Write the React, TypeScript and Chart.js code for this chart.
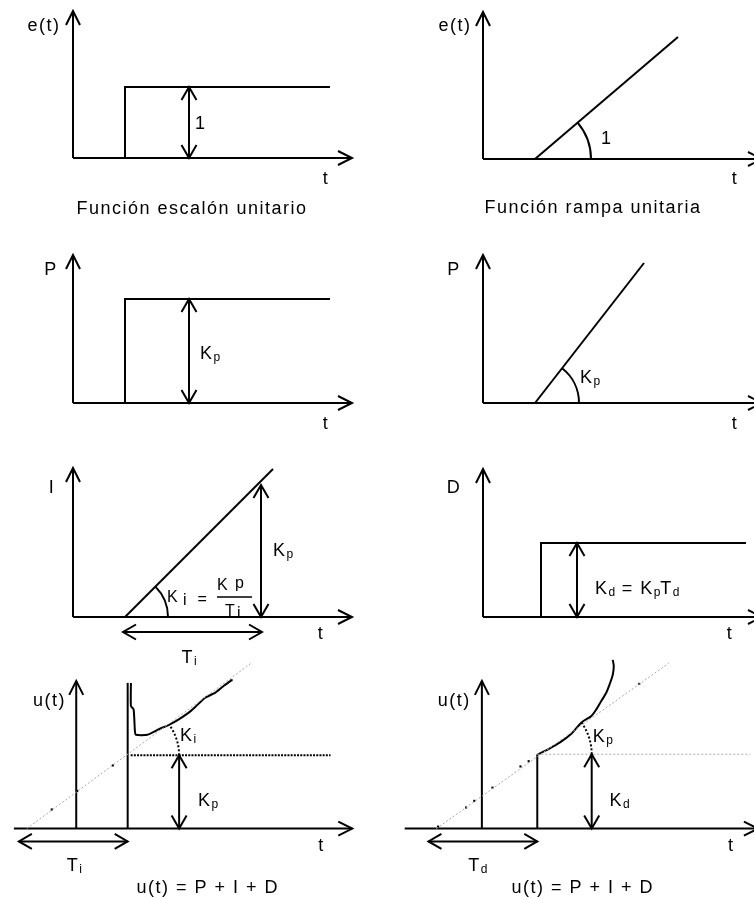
import React, { useEffect, useRef } from "react";
import { Chart, registerables } from "chart.js";

Chart.register(...registerables);

type Pt = [number, number];
type Kind = "n" | "s" | "m";
type Run = [string, Kind];
interface Label { x: number; y: number; runs: Run[]; align?: "left" | "center"; }
interface ArcSpec { c: Pt; r: number; to: number; dotted?: boolean; }

// ---------------- DATA (local units, origin = axes crossing) ----------------
// Panel 1: unit step
const p1XAxis: Pt[] = [[0, 0], [27.9, 0]];
const p1YAxis: Pt[] = [[0, 0], [0, 14.7]];
const p1Step: Pt[] = [[5.2, 0], [5.2, 7.1], [25.7, 7.1]];
const p1Dim: Pt[] = [[11.6, 0], [11.6, 7.1]];
const p1Labels: Label[] = [
  { x: -2.9, y: 13.3, runs: [["e(t)", "n"]], align: "center" },
  { x: 12.2, y: 3.5, runs: [["1", "n"]] },
  { x: 25.3, y: -2.0, runs: [["t", "n"]], align: "center" },
  { x: 11.9, y: -5.0, runs: [["Función escalón unitario", "n"]], align: "center" },
];

// Panel 2: unit ramp
const p2XAxis: Pt[] = [[0, 0], [27.9, 0]];
const p2YAxis: Pt[] = [[0, 0], [0, 14.7]];
const p2Ramp: Pt[] = [[5.2, 0], [19.5, 12.2]];
const p2Arcs: ArcSpec[] = [{ c: [5.2, 0], r: 5.6, to: 40.5 }];
const p2Labels: Label[] = [
  { x: -2.8, y: 13.4, runs: [["e(t)", "n"]], align: "center" },
  { x: 11.8, y: 2.1, runs: [["1", "n"]] },
  { x: 25.2, y: -1.9, runs: [["t", "n"]], align: "center" },
  { x: 11.0, y: -4.8, runs: [["Función rampa unitaria", "n"]], align: "center" },
];

// Panel 3: proportional step
const p3XAxis: Pt[] = [[0, 0], [27.9, 0]];
const p3YAxis: Pt[] = [[0, 0], [0, 14.8]];
const p3Step: Pt[] = [[5.2, 0], [5.2, 10.4], [25.7, 10.4]];
const p3Dim: Pt[] = [[11.6, 0], [11.6, 10.4]];
const p3Labels: Label[] = [
  { x: -2.2, y: 13.4, runs: [["P", "n"]], align: "center" },
  { x: 12.7, y: 5.0, runs: [["K", "n"], ["p", "s"]] },
  { x: 25.3, y: -2.0, runs: [["t", "n"]], align: "center" },
];

// Panel 4: proportional ramp
const p4XAxis: Pt[] = [[0, 0], [27.9, 0]];
const p4YAxis: Pt[] = [[0, 0], [0, 14.8]];
const p4Ramp: Pt[] = [[5.2, 0], [16.1, 14.0]];
const p4Arcs: ArcSpec[] = [{ c: [5.2, 0], r: 4.4, to: 52 }];
const p4Labels: Label[] = [
  { x: -2.9, y: 13.4, runs: [["P", "n"]], align: "center" },
  { x: 9.7, y: 2.6, runs: [["K", "n"], ["p", "s"]] },
  { x: 25.2, y: -2.0, runs: [["t", "n"]], align: "center" },
];

// Panel 5: integral
const p5XAxis: Pt[] = [[0, 0], [27.9, 0]];
const p5YAxis: Pt[] = [[0, 0], [0, 14.9]];
const p5Ramp: Pt[] = [[5.2, 0], [20.0, 14.8]];
const p5DimKp: Pt[] = [[18.8, 0], [18.8, 13.2]];
const p5DimTi: Pt[] = [[5.0, -1.5], [18.9, -1.5]];
const p5FracBar: Pt[] = [[14.4, 2.0], [17.9, 2.0]];
const p5Arcs: ArcSpec[] = [{ c: [5.2, 0], r: 4.3, to: 45 }];
const p5Labels: Label[] = [
  { x: -2.1, y: 13.0, runs: [["I", "n"]], align: "center" },
  { x: 20.0, y: 6.7, runs: [["K", "n"], ["p", "s"]] },
  { x: 24.8, y: -1.6, runs: [["t", "n"]], align: "center" },
  { x: 11.6, y: -4.0, runs: [["T", "n"], ["i", "s"]], align: "center" },
  { x: 9.4, y: 2.05, runs: [["K", "m"]] },
  { x: 11.0, y: 1.75, runs: [["i", "m"]] },
  { x: 20.0 - 7.0, y: 1.85, runs: [["=", "m"]], align: "center" },
  { x: 14.4, y: 3.3, runs: [["K", "m"]] },
  { x: 16.2, y: 3.5, runs: [["p", "m"]] },
  { x: 15.2, y: 0.7, runs: [["T", "m"]] },
  { x: 16.4, y: 0.5, runs: [["i", "m"]] },
];

// Panel 6: derivative
const p6XAxis: Pt[] = [[0, 0], [27.9, 0]];
const p6YAxis: Pt[] = [[0, 0], [0, 14.8]];
const p6Step: Pt[] = [[5.8, 0], [5.8, 7.4], [26.3, 7.4]];
const p6Dim: Pt[] = [[9.4, 0], [9.4, 7.4]];
const p6Labels: Label[] = [
  { x: -2.9, y: 13.0, runs: [["D", "n"]], align: "center" },
  { x: 11.2, y: 2.9, runs: [["K", "n"], ["d", "s"], [" = K", "n"], ["p", "s"], ["T", "n"], ["d", "s"]] },
  { x: 24.7, y: -1.6, runs: [["t", "n"]], align: "center" },
];

// Panel 7: u(t) with integral action
const p7XAxis: Pt[] = [[-6.3, 0], [27.9, 0]];
const p7YAxis: Pt[] = [[0, 0], [0, 14.9]];
const p7Spike: Pt[] = [[5.2, 0], [5.2, 14.7]];
const p7Response: Pt[] = [
  [5.53, 14.7], [5.53, 12.37], [5.8, 12.03], [5.93, 9.87], [6.03, 9.47], [7.2, 9.47],
  [8.37, 10.03], [9.37, 10.47], [10.37, 11.03], [11.37, 11.7], [12.03, 12.27],
  [13.03, 13.2], [14.03, 13.7], [14.87, 14.37], [15.7, 14.97],
];
const p7Ramp: Pt[] = [[-5.0, 0], [17.7, 16.7]];
const p7RampDots: Pt[] = [[-2.47, 1.93], [0.1, 3.8], [3.7, 6.37], [15.7, 14.97]];
const p7Level: Pt[] = [[5.5, 7.4], [25.7, 7.4]];
const p7Arcs: ArcSpec[] = [{ c: [5.2, 7.4], r: 5.2, to: 36, dotted: true }];
const p7DimKp: Pt[] = [[10.4, 0], [10.4, 7.4]];
const p7DimTi: Pt[] = [[-5.8, -1.3], [5.2, -1.3]];
const p7Labels: Label[] = [
  { x: -2.7, y: 13.0, runs: [["u(t)", "n"]], align: "center" },
  { x: 10.5, y: 9.45, runs: [["K", "n"], ["i", "s"]] },
  { x: 12.3, y: 2.95, runs: [["K", "n"], ["p", "s"]] },
  { x: 24.8, y: -1.6, runs: [["t", "n"]], align: "center" },
  { x: -0.2, y: -3.6, runs: [["T", "n"], ["i", "s"]], align: "center" },
  { x: 13.3, y: -5.8, runs: [["u(t) = P + I + D", "n"]], align: "center" },
];

// Panel 8: u(t) with derivative action
const p8XAxis: Pt[] = [[-7.8, 0], [27.9, 0]];
const p8YAxis: Pt[] = [[0, 0], [0, 14.9]];
const p8Ramp: Pt[] = [[-4.6, 0], [18.9, 16.7]];
const p8RampDots: Pt[] = [[-4.43, 0.2], [-1.6, 2.13], [-0.77, 2.8], [1.07, 4.13], [3.9, 6.27], [4.73, 6.8], [15.9, 14.6]];
const p8Step: Pt[] = [[5.6, 0], [5.6, 7.5]];
const p8Level: Pt[] = [[5.6, 7.5], [27.1, 7.5]];
const p8Response: Pt[] = [
  [5.63, 7.47], [6.73, 8.03], [7.9, 8.7], [9.07, 9.6], [10.07, 10.7], [11.07, 11.37],
  [11.57, 12.03], [12.07, 12.87], [12.57, 13.7], [12.9, 14.53], [13.23, 15.53],
  [13.33, 16.37], [13.23, 17.03],
];
const p8Arcs: ArcSpec[] = [{ c: [5.6, 7.5], r: 5.5, to: 36, dotted: true }];
const p8DimKd: Pt[] = [[11.1, 0], [11.1, 7.5]];
const p8DimTd: Pt[] = [[-5.4, -1.3], [5.6, -1.3]];
const p8Labels: Label[] = [
  { x: -2.8, y: 13.0, runs: [["u(t)", "n"]], align: "center" },
  { x: 11.2, y: 9.4, runs: [["K", "n"], ["p", "s"]] },
  { x: 12.9, y: 2.9, runs: [["K", "n"], ["d", "s"]] },
  { x: 25.2, y: -1.6, runs: [["t", "n"]], align: "center" },
  { x: -0.4, y: -3.6, runs: [["T", "n"], ["d", "s"]], align: "center" },
  { x: 10.2, y: -5.8, runs: [["u(t) = P + I + D", "n"]], align: "center" },
];

// ---------------- LAYOUT & STYLE ----------------
const W = 754;
const H = 899;
const UNIT = 10; // px per local unit
const FONT = "'Liberation Sans', Arial, sans-serif";
const SIZES: Record<Kind, number> = { n: 18, s: 12, m: 16 };

const SOLID = { borderColor: "#000", borderWidth: 2 };
const THIN = { borderColor: "#000", borderWidth: 1.5 };
const GRAY_DOTS = { borderColor: "#a8a8a8", borderWidth: 1, borderDash: [2, 2] };
const BLACK_DOTS = { borderColor: "#000", borderWidth: 2, borderDash: [2, 1.2] };

type Arrow = { start?: boolean; end?: boolean; head?: "axis" | "dim" };

function line(points: Pt[], style: any = SOLID, arrows: Arrow = {}, tension = 0) {
  return {
    data: points.map(([x, y]) => ({ x, y })),
    showLine: true,
    pointRadius: 0,
    pointHoverRadius: 0,
    fill: false,
    tension,
    clip: false,
    borderCapStyle: "butt",
    borderJoinStyle: "miter",
    ...style,
    arrowStart: !!arrows.start,
    arrowEnd: !!arrows.end,
    head: arrows.head || "axis",
  };
}
function dots(points: Pt[]) {
  return {
    data: points.map(([x, y]) => ({ x, y })),
    showLine: false,
    pointRadius: 1.5,
    pointStyle: "rect",
    pointBackgroundColor: "#000",
    pointBorderWidth: 0,
    clip: false,
  };
}
const AX_END: Arrow = { end: true, head: "axis" };
const DIM: Arrow = { start: true, end: true, head: "dim" };

interface Panel { origin: Pt; build: () => any[]; arcs: ArcSpec[]; labels: Label[]; }

const panels: Panel[] = [
  {
    origin: [73, 158], arcs: [], labels: p1Labels,
    build: () => [line(p1XAxis, SOLID, AX_END), line(p1YAxis, SOLID, AX_END), line(p1Step), line(p1Dim, SOLID, DIM)],
  },
  {
    origin: [483, 159], arcs: p2Arcs, labels: p2Labels,
    build: () => [line(p2XAxis, SOLID, AX_END), line(p2YAxis, SOLID, AX_END), line(p2Ramp)],
  },
  {
    origin: [73, 403], arcs: [], labels: p3Labels,
    build: () => [line(p3XAxis, SOLID, AX_END), line(p3YAxis, SOLID, AX_END), line(p3Step), line(p3Dim, SOLID, DIM)],
  },
  {
    origin: [483, 403], arcs: p4Arcs, labels: p4Labels,
    build: () => [line(p4XAxis, SOLID, AX_END), line(p4YAxis, SOLID, AX_END), line(p4Ramp)],
  },
  {
    origin: [73, 617], arcs: p5Arcs, labels: p5Labels,
    build: () => [
      line(p5XAxis, SOLID, AX_END), line(p5YAxis, SOLID, AX_END), line(p5Ramp),
      line(p5DimKp, SOLID, DIM), line(p5DimTi, SOLID, DIM), line(p5FracBar, THIN),
    ],
  },
  {
    origin: [483, 617], arcs: [], labels: p6Labels,
    build: () => [line(p6XAxis, SOLID, AX_END), line(p6YAxis, SOLID, AX_END), line(p6Step), line(p6Dim, SOLID, DIM)],
  },
  {
    origin: [73, 832], arcs: p7Arcs, labels: p7Labels,
    build: () => [
      line(p7Ramp, GRAY_DOTS), dots(p7RampDots),
      line(p7XAxis, SOLID, AX_END), line(p7YAxis, SOLID, AX_END), line(p7Spike),
      line(p7Response, SOLID, {}, 0.2), line(p7Level, BLACK_DOTS),
      line(p7DimKp, SOLID, DIM), line(p7DimTi, SOLID, DIM),
    ],
  },
  {
    origin: [483, 832], arcs: p8Arcs, labels: p8Labels,
    build: () => [
      line(p8Ramp, GRAY_DOTS), dots(p8RampDots), line(p8Level, GRAY_DOTS),
      line(p8XAxis, SOLID, AX_END), line(p8YAxis, SOLID, AX_END), line(p8Step),
      line(p8Response, SOLID, {}, 0.3),
      line(p8DimKd, SOLID, DIM), line(p8DimTd, SOLID, DIM),
    ],
  },
];

function makePlugin(panel: Panel) {
  return {
    id: "diagram",
    afterDatasetsDraw(chart: any) {
      const ctx: CanvasRenderingContext2D = chart.ctx;
      const xs = chart.scales.x;
      const ys = chart.scales.y;
      ctx.save();
      ctx.strokeStyle = "#000";
      ctx.fillStyle = "#000";
      ctx.lineWidth = 2;
      ctx.lineCap = "butt";
      ctx.lineJoin = "miter";
      // arrow heads
      chart.data.datasets.forEach((ds: any, i: number) => {
        if (!ds.arrowStart && !ds.arrowEnd) return;
        const pts = chart.getDatasetMeta(i).data;
        const n = pts.length;
        const L = ds.head === "dim" ? 13 : 14;
        const Wd = ds.head === "dim" ? 7.5 : 7;
        const head = (tip: any, from: any) => {
          const dx = tip.x - from.x;
          const dy = tip.y - from.y;
          const len = Math.hypot(dx, dy) || 1;
          const ux = dx / len, uy = dy / len;
          const bx = tip.x - ux * L, by = tip.y - uy * L;
          ctx.setLineDash([]);
          ctx.beginPath();
          ctx.moveTo(bx - uy * Wd, by + ux * Wd);
          ctx.lineTo(tip.x, tip.y);
          ctx.lineTo(bx + uy * Wd, by - ux * Wd);
          ctx.stroke();
        };
        if (ds.arrowEnd) head(pts[n - 1], pts[n - 2]);
        if (ds.arrowStart) head(pts[0], pts[1]);
      });
      // angle arcs
      const ppu = xs.getPixelForValue(1) - xs.getPixelForValue(0);
      panel.arcs.forEach((a) => {
        ctx.beginPath();
        ctx.setLineDash(a.dotted ? [2, 2] : []);
        ctx.lineWidth = 2;
        ctx.arc(xs.getPixelForValue(a.c[0]), ys.getPixelForValue(a.c[1]), a.r * ppu, 0, (-a.to * Math.PI) / 180, true);
        ctx.stroke();
      });
      ctx.setLineDash([]);
      // labels
      ctx.textBaseline = "alphabetic";
      ctx.textAlign = "left";
      panel.labels.forEach((lab) => {
        const px = xs.getPixelForValue(lab.x);
        const py = ys.getPixelForValue(lab.y);
        const parts = lab.runs.map(([text, kind]) => {
          ctx.font = `${SIZES[kind]}px ${FONT}`;
          (ctx as any).letterSpacing = kind === "s" ? "0px" : "1.5px";
          return { text, kind, w: ctx.measureText(text).width };
        });
        const total = parts.reduce((s, p) => s + p.w, 0);
        let x = lab.align === "center" ? px - total / 2 : px;
        const base = py + 0.36 * SIZES[lab.runs[0][1]];
        parts.forEach((p) => {
          ctx.font = `${SIZES[p.kind]}px ${FONT}`;
          (ctx as any).letterSpacing = p.kind === "s" ? "0px" : "1.5px";
          ctx.fillText(p.text, x, base + (p.kind === "s" ? 2 : 0));
          x += p.w;
        });
      });
      (ctx as any).letterSpacing = "0px";
      ctx.restore();
    },
  };
}

function PanelChart({ panel }: { panel: Panel }) {
  const ref = useRef<HTMLCanvasElement>(null);
  useEffect(() => {
    const [ox, oy] = panel.origin;
    const chart = new Chart(ref.current as HTMLCanvasElement, {
      type: "scatter",
      data: { datasets: panel.build() },
      options: {
        animation: false,
        responsive: false,
        maintainAspectRatio: false,
        devicePixelRatio: 1,
        events: [],
        layout: { padding: 0 },
        plugins: { legend: { display: false }, tooltip: { enabled: false } },
        scales: {
          x: { type: "linear", display: false, min: -ox / UNIT, max: (W - ox) / UNIT },
          y: { type: "linear", display: false, min: -(H - oy) / UNIT, max: oy / UNIT },
        },
      } as any,
      plugins: [makePlugin(panel)],
    });
    return () => chart.destroy();
  }, [panel]);
  return (
    <canvas
      ref={ref}
      width={W}
      height={H}
      style={{ position: "absolute", left: 0, top: 0, width: W, height: H }}
    />
  );
}

export default function App() {
  useEffect(() => {
    document.body.style.margin = "0";
  }, []);
  return (
    <div style={{ position: "absolute", left: 0, top: 0, width: W, height: H, background: "#fff", overflow: "hidden" }}>
      {panels.map((p, i) => (
        <PanelChart key={i} panel={p} />
      ))}
    </div>
  );
}
